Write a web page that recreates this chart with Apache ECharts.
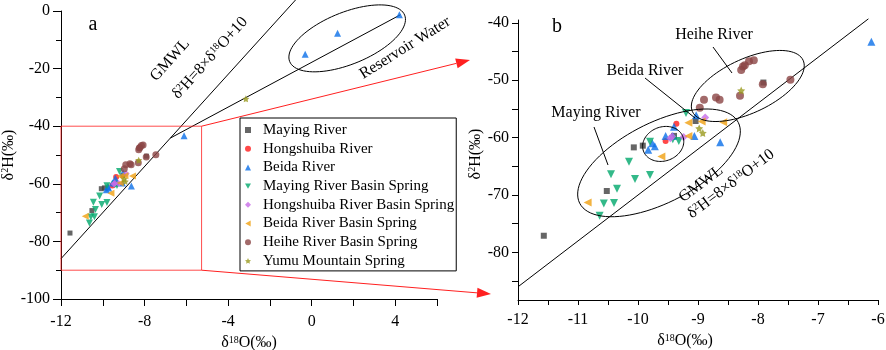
<!DOCTYPE html>
<html>
<head>
<meta charset="utf-8">
<script src="https://cdn.jsdelivr.net/npm/echarts@6.0.0/dist/echarts.min.js"></script>
<style>
  html, body { margin: 0; padding: 0; background: #fff; }
  #main { width: 886px; height: 350px; }
</style>
</head>
<body>
<div id="main"></div>
<script>
// values, [δ18O, δ2H]
var mayingRiver = [[-11.57,-77.1],[-10.52,-69.3],[-10.07,-61.7],[-9.92,-61.4],[-9.40,-59.7],[-9.04,-57.1],[-7.91,-50.4]];
var hongshuibaRiver = [[-9.36,-57.6],[-9.54,-60.6]];
var beidaRiver = [[-9.83,-62.1],[-9.76,-61.0],[-9.72,-61.5],[-9.54,-59.7],[-9.42,-59.7],[-9.40,-58.1],[-9.06,-59.7],[-9.03,-56.1],[-8.63,-60.8],[-6.11,-43.3],[-0.31,-15.0],[1.24,-7.7],[4.20,-1.3]];
var mayingSpring = [[-10.64,-73.6],[-10.57,-71.5],[-10.40,-71.4],[-10.35,-68.9],[-10.45,-66.4],[-10.15,-64.2],[-10.05,-67.2],[-9.80,-66.5],[-9.80,-60.7],[-9.42,-60.3],[-9.32,-60.6],[-9.20,-55.7]];
var hongshuibaSpring = [[-9.46,-60.1],[-9.43,-59.8],[-9.24,-59.9],[-8.88,-56.5]];
var beidaSpring = [[-10.84,-71.3],[-9.61,-63.3],[-9.16,-59.7],[-9.16,-57.4],[-8.94,-57.2],[-8.58,-57.3]];
var heiheSpring = [[-8.97,-54.8],[-8.90,-53.4],[-8.70,-53.0],[-8.64,-53.4],[-8.30,-52.7],[-8.28,-48.2],[-8.25,-47.6],[-8.22,-47.4],[-8.15,-46.7],[-8.07,-46.5],[-7.92,-50.7],[-7.46,-49.9]];
var yumuSpring = [[-8.28,-51.8],[-8.98,-58.4],[-8.92,-59.2],[-3.15,-30.5]];

// reference lines
var gmwlA = [[-12,-86],[-0.7,4.4]];
var evapA = [[-6.76,-44.1],[4.25,-1.3]];
var gmwlB = [[-12,-86],[-6.16,-39.3]];

var xTicksB = [-12,-11,-10,-9,-8,-7,-6];
var yLabelsB = [-80,-70,-60,-50,-40];
var yTicksB = [-85,-80,-75,-70,-65,-60,-55,-50,-45,-40];

var FONT = 'Liberation Serif';
var star = 'path://M0,-10L2.9,-4L9.5,-3.1L4.8,1.5L5.9,8.1L0,5L-5.9,8.1L-4.8,1.5L-9.5,-3.1L-2.9,-4Z';
var triDown = 'path://M0,0L10,0L5,9Z';
var triLeft = 'path://M0,5L9,0L9,10Z';

var groups = [
  {name: 'Maying River', data: mayingRiver, symbol: 'rect', color: '#404040', sa: 5, sb: 6},
  {name: 'Hongshuiba River', data: hongshuibaRiver, symbol: 'circle', color: '#ff1a1a', sa: 6, sb: 6},
  {name: 'Beida River', data: beidaRiver, symbol: 'triangle', color: '#0b6fe8', sa: 7, sb: 8},
  {name: 'Maying River Basin Spring', data: mayingSpring, symbol: triDown, color: '#00a86b', sa: 7, sb: 8},
  {name: 'Hongshuiba River Basin Spring', data: hongshuibaSpring, symbol: 'diamond', color: '#c86be8', sa: 7, sb: 8},
  {name: 'Beida River Basin Spring', data: beidaSpring, symbol: triLeft, color: '#f0a010', sa: 7, sb: 8},
  {name: 'Heihe River Basin Spring', data: heiheSpring, symbol: 'circle', color: '#8b4545', sa: 7, sb: 8},
  {name: 'Yumu Mountain Spring', data: yumuSpring, symbol: star, color: '#9a9a1e', sa: 7, sb: 8}
];

var supRich = {
  n: {fontFamily: FONT, fontSize: 16, color: '#000'},
  s: {fontFamily: FONT, fontSize: 10, color: '#000', verticalAlign: 'top', lineHeight: 10}
};

var series = [];
groups.forEach(function (g) {
  [0, 1].forEach(function (i) {
    series.push({
      name: g.name,
      type: 'scatter',
      xAxisIndex: i,
      yAxisIndex: i,
      symbol: g.symbol,
      symbolSize: i == 0 ? g.sa : g.sb,
      itemStyle: {color: g.color},
      data: g.data
    });
  });
});

function refLine(data, idx) {
  return {
    type: 'line', xAxisIndex: idx, yAxisIndex: idx, data: data,
    symbol: 'none', clip: false, silent: true,
    lineStyle: {color: '#000', width: 1}, z: 1
  };
}
series.push(refLine(gmwlA, 0), refLine(evapA, 0), refLine(gmwlB, 1));

var axisCommon = {
  axisLine: {show: true, onZero: false, lineStyle: {color: '#000', width: 1}},
  splitLine: {show: false},
  axisLabel: {color: '#000', fontFamily: FONT, fontSize: 16},
  nameTextStyle: {rich: supRich}
};

var option = {
  animation: false,
  backgroundColor: '#fff',
  grid: [
    {left: 61, top: 11, width: 376, height: 288, outerBoundsMode: 'none'},
    {left: 518, top: 20, width: 360, height: 280, outerBoundsMode: 'none'}
  ],
  legend: {
    data: groups.map(function (g) { return {name: g.name, icon: g.symbol}; }),
    orient: 'vertical',
    left: 240, top: 118,
    padding: [4, 2, 2, 5],
    itemGap: 2.7,
    itemWidth: 6, itemHeight: 6,
    borderColor: '#000', borderWidth: 1,
    backgroundColor: '#fff',
    textStyle: {fontFamily: FONT, fontSize: 15, color: '#000', lineHeight: 16, padding: [0, 0, 0, 7]}
  },
  xAxis: [
    Object.assign({}, axisCommon, {
      gridIndex: 0, type: 'value', min: -12, max: 6, interval: 2,
      axisTick: {length: 7, lineStyle: {color: '#000'}},
      axisLabel: Object.assign({}, axisCommon.axisLabel, {
        margin: 15,
        formatter: function (v) { return v % 4 === 0 ? String(v) : ''; }
      }),
      name: '{n|δ}{s|18}{n|O(‰)}', nameLocation: 'middle', nameGap: 33
    }),
    Object.assign({}, axisCommon, {
      gridIndex: 1, type: 'value', min: -12, max: -6, interval: 0.5,
      axisTick: {length: 5, lineStyle: {color: '#000'}},
      axisLabel: Object.assign({}, axisCommon.axisLabel, {
        margin: 12,
        formatter: function (v) { return xTicksB.indexOf(v) >= 0 ? String(v) : ''; }
      }),
      name: '{n|δ}{s|18}{n|O(‰)}', nameLocation: 'middle', nameGap: 32,
      nameTextStyle: {rich: supRich, padding: [0, 26, 0, 0]}
    })
  ],
  yAxis: [
    Object.assign({}, axisCommon, {
      gridIndex: 0, type: 'value', min: -100, max: 0, interval: 20,
      axisTick: {length: 8, lineStyle: {color: '#000'}},
      minorTick: {show: true, splitNumber: 2, length: 5, lineStyle: {color: '#000'}},
      axisLabel: Object.assign({}, axisCommon.axisLabel, {margin: 11}),
      name: '{n|δ}{s|2}{n|H(‰)}', nameLocation: 'middle', nameGap: 36, nameRotate: 90
    }),
    Object.assign({}, axisCommon, {
      gridIndex: 1, type: 'value', min: -88.3, max: -39.5,
      axisTick: {length: 6, customValues: yTicksB, lineStyle: {color: '#000'}},
      axisLabel: Object.assign({}, axisCommon.axisLabel, {margin: 9, customValues: yLabelsB}),
      name: '{n|δ}{s|2}{n|H(‰)}', nameLocation: 'middle', nameGap: 33, nameRotate: 90,
      nameTextStyle: {rich: supRich, padding: [0, 0, 0, 12]}
    })
  ],
  series: series
};

var chart = echarts.init(document.getElementById('main'));
chart.setOption(option);

// annotations
function px(grid, p) { return chart.convertToPixel({gridIndex: grid}, p); }
function ellipsePts(c, a, b, deg) {
  var t = deg * Math.PI / 180, pts = [];
  for (var i = 0; i <= 90; i++) {
    var u = i / 90 * 2 * Math.PI;
    pts.push([
      c[0] + a * Math.cos(u) * Math.cos(t) - b * Math.sin(u) * Math.sin(t),
      c[1] + a * Math.cos(u) * Math.sin(t) + b * Math.sin(u) * Math.cos(t)
    ]);
  }
  return pts;
}
function ellipse(grid, center, a, b, deg) {
  return {type: 'polyline', z: 50, silent: true,
    shape: {points: ellipsePts(px(grid, center), a, b, deg)},
    style: {stroke: '#000', lineWidth: 1, fill: null}};
}
function text(str, x, y, size, deg) {
  return {type: 'text', x: x, y: y, z: 60, rotation: (deg || 0) * Math.PI / 180, silent: true,
    style: {text: str, fontFamily: FONT, fontSize: size, fill: '#000',
      align: 'center', verticalAlign: 'middle', rich: supRich}};
}
function seg(p1, p2, color) {
  return {type: 'line', z: 55, silent: true,
    shape: {x1: p1[0], y1: p1[1], x2: p2[0], y2: p2[1]},
    style: {stroke: color || '#000', lineWidth: 1}};
}
function arrow(p1, tip, color) {
  var dx = tip[0] - p1[0], dy = tip[1] - p1[1], L = Math.sqrt(dx * dx + dy * dy);
  var ux = dx / L, uy = dy / L, hl = 14, hw = 5;
  var base = [tip[0] - ux * hl, tip[1] - uy * hl];
  return [
    seg(p1, base, color),
    {type: 'polygon', z: 55, silent: true,
      shape: {points: [tip, [base[0] - uy * hw, base[1] + ux * hw], [base[0] + uy * hw, base[1] - ux * hw]]},
      style: {fill: color}}
  ];
}

var rectTL = px(0, [-12, -40]), rectBR = px(0, [-5.27, -90]);
var red = '#ff2020';
var graphic = [
  {type: 'rect', z: 55, silent: true,
    shape: {x: rectTL[0], y: rectTL[1], width: rectBR[0] - rectTL[0], height: rectBR[1] - rectTL[1]},
    style: {stroke: red, fill: null, lineWidth: 1, opacity: 0.8}},
  ellipse(0, [1.70, -9.5], 62, 26, -22),
  ellipse(1, [-9.65, -64.4], 89, 40, -27),
  ellipse(1, [-9.58, -61.1], 21, 17, -20),
  ellipse(1, [-8.17, -51.0], 61, 27, -25),
  text('a', 93, 25, 20),
  text('GMWL', 170, 60, 16, 48),
  text('{n|δ}{s|2}{n|H=8×δ}{s|18}{n|O+10}', 210, 58, 16, 48),
  text('Reservoir Water', 405, 48, 16, 32),
  text('b', 557, 27, 20),
  text('Heihe River', 714, 35, 16),
  text('Beida River', 645, 71, 16),
  text('Maying River', 596, 113, 16),
  text('GMWL', 701, 184, 16, 37),
  text('{n|δ}{s|2}{n|H=8×δ}{s|18}{n|O+10}', 731, 184, 16, 37),
  seg([713, 47], [732, 73]),
  seg([645, 78], [695, 118]),
  seg([594, 127], [608, 165])
];
graphic = graphic.concat(arrow([rectBR[0], rectTL[1]], [470, 60], red));
graphic = graphic.concat(arrow([rectBR[0], rectBR[1]], [491, 294], red));

chart.setOption({graphic: graphic});
</script>
</body>
</html>
